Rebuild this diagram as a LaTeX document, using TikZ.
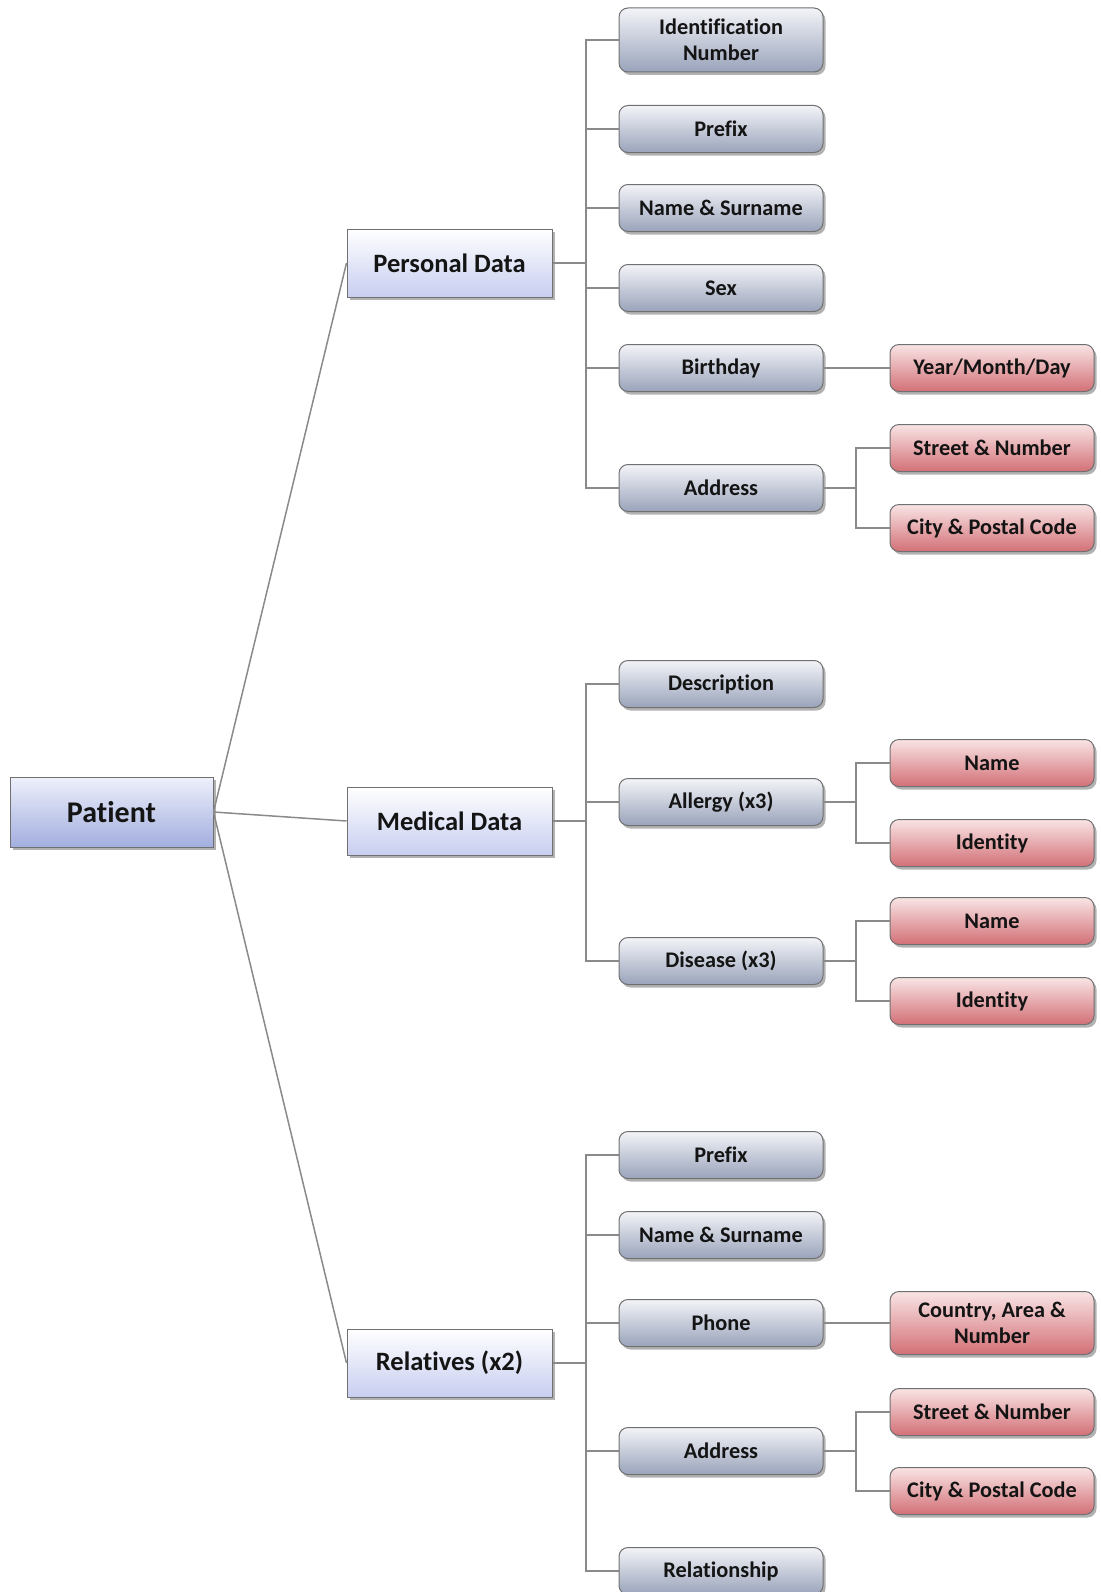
\documentclass[tikz,border=0pt]{standalone}
\usepackage{fontspec}
\setmainfont[Ligatures=NoCommon]{Carlito}
\usetikzlibrary{shadows}

\definecolor{rootTop}{HTML}{EEF0FB}
\definecolor{rootBot}{HTML}{A2AEDE}
\definecolor{grpTop}{HTML}{FFFFFF}
\definecolor{grpBot}{HTML}{C8CEF0}
\definecolor{fldTop}{HTML}{F3F4F8}
\definecolor{fldBot}{HTML}{99A3BA}
\definecolor{detTop}{HTML}{F9E4E5}
\definecolor{detBot}{HTML}{D27076}
\definecolor{boxedge}{HTML}{707070}
\definecolor{linkgray}{HTML}{8A8A8A}
\definecolor{ink}{HTML}{141414}

\begin{document}
\begin{tikzpicture}[x=1pt,y=-1pt,
  base/.style={draw=boxedge, line width=1pt, inner sep=0pt, align=center,
    text=ink,
    drop shadow={shadow xshift=2.5pt, shadow yshift=-3pt, opacity=0.5, fill=black!60}},
  root/.style={base, minimum width=203pt, minimum height=70pt,
    top color=rootTop, bottom color=rootBot,
    font=\fontsize{30}{35}\selectfont\bfseries},
  group/.style={base, minimum width=205pt, minimum height=68pt,
    top color=grpTop, bottom color=grpBot,
    font=\fontsize{26.5}{31}\selectfont\bfseries},
  field/.style={base, rounded corners=9pt, minimum width=204pt, minimum height=47pt,
    top color=fldTop, bottom color=fldBot,
    font=\fontsize{22.3}{26.5}\selectfont\bfseries},
  detail/.style={field, top color=detTop, bottom color=detBot},
  link/.style={draw=linkgray, line width=1.5pt}]

\useasboundingbox (0,0) rectangle (1100,1592);

% root and first level
\node[root] (pat) at (111.5,812) {Patient};
\node[group] (pd) at (449.5,263) {Personal Data};
\node[group] (md) at (449.5,821) {Medical Data};
\node[group] (rel) at (449.5,1363) {Relatives (x2)};

% personal data fields
\node[field, minimum height=64pt] (pid) at (721,40) {Identification\\Number};
\node[field] (ppre) at (721,129) {Prefix};
\node[field] (pname) at (721,208) {Name \& Surname};
\node[field] (psex) at (721,288) {Sex};
\node[field] (pbir) at (721,368) {Birthday};
\node[field] (padr) at (721,488) {Address};
\node[detail] (pymd) at (992,368) {Year/Month/Day};
\node[detail] (pstr) at (992,448) {Street \& Number};
\node[detail] (pcity) at (992,528) {City \& Postal Code};

% medical data fields
\node[field] (mdesc) at (721,684) {Description};
\node[field] (mall) at (721,802) {Allergy (x3)};
\node[field] (mdis) at (721,961) {Disease (x3)};
\node[detail] (maname) at (992,763) {Name};
\node[detail] (maid) at (992,843) {Identity};
\node[detail] (mdname) at (992,921) {Name};
\node[detail] (mdid) at (992,1001) {Identity};

% relatives fields
\node[field] (rpre) at (721,1155) {Prefix};
\node[field] (rname) at (721,1235) {Name \& Surname};
\node[field] (rpho) at (721,1323) {Phone};
\node[field] (radr) at (721,1451) {Address};
\node[field] (rrel) at (721,1571) {Relationship};
\node[detail, minimum height=63pt] (rcty) at (992,1323) {Country, Area \&\\Number};
\node[detail] (rstr) at (992,1412) {Street \& Number};
\node[detail] (rcity) at (992,1491) {City \& Postal Code};

% branching points
\coordinate (pdT) at (586,263);
\coordinate (mdT) at (586,821);
\coordinate (relT) at (586,1363);
\coordinate (padrT) at (856,488);
\coordinate (mallT) at (856,802);
\coordinate (mdisT) at (856,961);
\coordinate (radrT) at (856,1451);

% root to groups
\draw[link] (pat.east) -- (pd.west);
\draw[link] (pat.east) -- (md.west);
\draw[link] (pat.east) -- (rel.west);

% personal data tree
\draw[link] (pd.east) -- (pdT);
\foreach \c in {pid,ppre,pname,psex,pbir,padr}
  \draw[link] (pdT) |- (\c.west);
\draw[link] (pbir.east) -- (pymd.west);
\draw[link] (padr.east) -- (padrT);
\foreach \c in {pstr,pcity}
  \draw[link] (padrT) |- (\c.west);

% medical data tree
\draw[link] (md.east) -- (mdT);
\foreach \c in {mdesc,mall,mdis}
  \draw[link] (mdT) |- (\c.west);
\draw[link] (mall.east) -- (mallT);
\foreach \c in {maname,maid}
  \draw[link] (mallT) |- (\c.west);
\draw[link] (mdis.east) -- (mdisT);
\foreach \c in {mdname,mdid}
  \draw[link] (mdisT) |- (\c.west);

% relatives tree
\draw[link] (rel.east) -- (relT);
\foreach \c in {rpre,rname,rpho,radr,rrel}
  \draw[link] (relT) |- (\c.west);
\draw[link] (rpho.east) -- (rcty.west);
\draw[link] (radr.east) -- (radrT);
\foreach \c in {rstr,rcity}
  \draw[link] (radrT) |- (\c.west);

\end{tikzpicture}
\end{document}
